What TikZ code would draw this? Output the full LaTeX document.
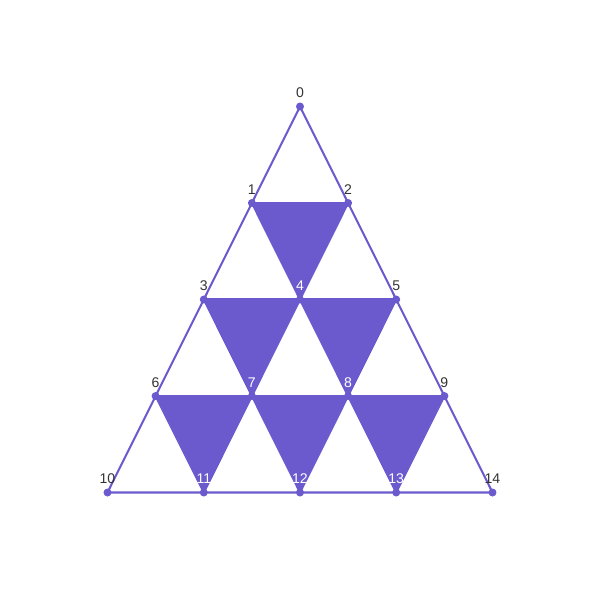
\documentclass[tikz,border=0pt]{standalone}
\usepackage{fontspec}
\setmainfont{Liberation Sans}
\definecolor{tri}{HTML}{6A5ACD}
\definecolor{ink}{HTML}{333333}
\tikzset{
  edge/.style={draw=tri,line width=1.15pt,line join=round,line cap=round},
  cell/.style={fill=tri},
  num/.style={anchor=base,yshift=.18cm,inner sep=0pt,text=ink},
  numw/.style={num,text=white}
}
\begin{document}
\begin{tikzpicture}[x=.02cm,y=-.02cm,font=\fontsize{8}{9}\selectfont]
  \useasboundingbox (0,0) rectangle (600,600);
  % grid points
  \coordinate (v0) at (300,106.5);
  \coordinate (v1) at (251.9,203);
  \coordinate (v2) at (348.1,203);
  \coordinate (v3) at (203.8,299.5);
  \coordinate (v4) at (300,299.5);
  \coordinate (v5) at (396.2,299.5);
  \coordinate (v6) at (155.6,396);
  \coordinate (v7) at (251.9,396);
  \coordinate (v8) at (348.1,396);
  \coordinate (v9) at (444.4,396);
  \coordinate (v10) at (107.5,492.5);
  \coordinate (v11) at (203.8,492.5);
  \coordinate (v12) at (300,492.5);
  \coordinate (v13) at (396.2,492.5);
  \coordinate (v14) at (492.5,492.5);
  % shaded downward cells
  \fill[cell] (v1)--(v2)--(v4)--cycle;
  \fill[cell] (v3)--(v4)--(v7)--cycle;
  \fill[cell] (v4)--(v5)--(v8)--cycle;
  \fill[cell] (v6)--(v7)--(v11)--cycle;
  \fill[cell] (v7)--(v8)--(v12)--cycle;
  \fill[cell] (v8)--(v9)--(v13)--cycle;
  % grid lines
  \draw[edge] (v0)--(v10)--(v14)--cycle;
  \draw[edge] (v1)--(v2);
  \draw[edge] (v3)--(v5);
  \draw[edge] (v6)--(v9);
  \draw[edge] (v2)--(v11);
  \draw[edge] (v5)--(v12);
  \draw[edge] (v9)--(v13);
  \draw[edge] (v1)--(v13);
  \draw[edge] (v3)--(v12);
  \draw[edge] (v6)--(v11);
  % points and labels
  \foreach \i in {0,...,14} {
    \fill[tri] (v\i) circle (4);
  }
  \foreach \i in {0,1,2,3,5,6,9,10,14} {
    \node[num] (l\i) at (v\i) {\i};
  }
  \foreach \i in {4,7,8,11,12,13} {
    \node[numw] (l\i) at (v\i) {\i};
  }
\end{tikzpicture}
\end{document}
